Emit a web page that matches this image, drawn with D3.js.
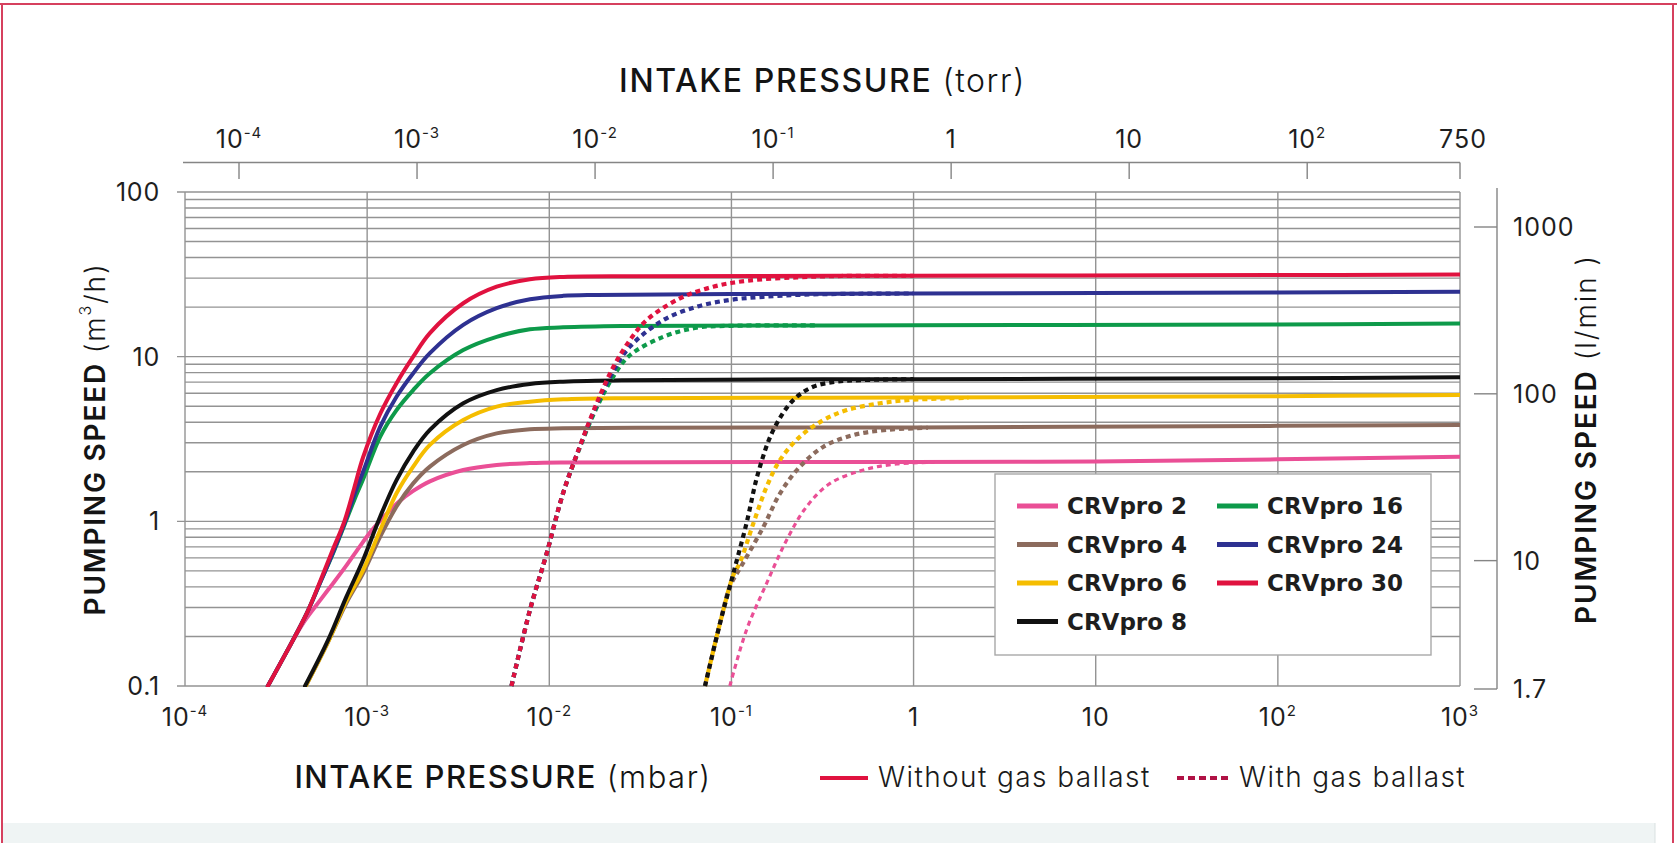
<!DOCTYPE html>
<html><head><meta charset="utf-8">
<script src="https://cdn.jsdelivr.net/npm/d3@7"></script>
<style>
html,body{margin:0;padding:0;background:#fff;}
svg{display:block;font-family:Inter,"Open Sans",sans-serif;}
</style></head>
<body>
<svg id="chart" width="1677" height="843"></svg>
<script>
// ---------- DATA (pressure in mbar, pumping speed in m3/h) ----------
const series = ["CRVpro 2","CRVpro 4","CRVpro 6","CRVpro 8","CRVpro 16","CRVpro 24","CRVpro 30"];
const seriesColors = ["#ea4f96","#8c6b5d","#f5bd00","#111111","#0d9a4a","#2e3191","#e0123f"];

// without gas ballast (solid)
const crv2_solid  = [[2.85e-4,0.1],[3.6e-4,0.16],[4.5e-4,0.245],[5.5e-4,0.33],[6.5e-4,0.42],[7.7e-4,0.54],[9.0e-4,0.69],[1.05e-3,0.87],[1.25e-3,1.08],[1.5e-3,1.32],[1.79e-3,1.53],[2.21e-3,1.75],[3.37e-3,2.05],[5.14e-3,2.2],[7.83e-3,2.26],[1.2e-2,2.28],[1,2.29],[10,2.31],[100,2.38],[1000,2.47]];
const crv4_solid  = [[4.6e-4,0.1],[6.1e-4,0.185],[7.7e-4,0.32],[9.5e-4,0.483],[1.18e-3,0.807],[1.45e-3,1.23],[1.79e-3,1.7],[2.21e-3,2.15],[3.37e-3,2.91],[5.14e-3,3.42],[7.83e-3,3.62],[1.19e-2,3.67],[3e-2,3.7],[1,3.72],[100,3.8],[1000,3.85]];
const crv6_solid  = [[4.6e-4,0.1],[6.1e-4,0.185],[7.7e-4,0.33],[9.5e-4,0.506],[1.18e-3,0.886],[1.45e-3,1.48],[1.79e-3,2.15],[2.21e-3,2.91],[3.37e-3,4.12],[5.14e-3,4.97],[7.83e-3,5.33],[1.19e-2,5.51],[2.5e-2,5.6],[1,5.65],[100,5.75],[1000,5.85]];
const crv8_solid  = [[4.56e-4,0.1],[6.1e-4,0.19],[7.7e-4,0.349],[9.5e-4,0.582],[1.18e-3,1.07],[1.45e-3,1.78],[1.79e-3,2.65],[2.21e-3,3.59],[3.37e-3,5.21],[5.14e-3,6.27],[7.83e-3,6.82],[1.19e-2,7.05],[2.5e-2,7.2],[1,7.3],[100,7.4],[1000,7.49]];
const crv16_solid = [[2.85e-4,0.1],[3.6e-4,0.16],[4.66e-4,0.276],[5.6e-4,0.44],[6.5e-4,0.64],[7.5e-4,0.95],[8.5e-4,1.35],[9.5e-4,1.8],[1.18e-3,3.27],[1.45e-3,4.74],[1.79e-3,6.27],[2.21e-3,7.93],[3.37e-3,10.97],[5.14e-3,13.2],[7.83e-3,14.66],[1.19e-2,15.07],[2.5e-2,15.35],[1,15.5],[100,15.7],[1000,15.9]];
const crv24_solid = [[2.85e-4,0.1],[3.6e-4,0.16],[4.66e-4,0.276],[5.6e-4,0.44],[6.5e-4,0.65],[7.5e-4,0.97],[8.5e-4,1.45],[9.5e-4,2.0],[1.18e-3,3.76],[1.45e-3,5.71],[1.79e-3,7.93],[2.21e-3,10.5],[3.37e-3,15.6],[5.14e-3,19.7],[7.83e-3,22.3],[1.19e-2,23.4],[1.82e-2,23.7],[0.1,24.0],[1,24.2],[100,24.5],[1000,24.8]];
const crv30_solid = [[2.85e-4,0.1],[3.6e-4,0.16],[4.66e-4,0.276],[5.6e-4,0.45],[6.5e-4,0.68],[7.5e-4,1.0],[8.5e-4,1.6],[9.5e-4,2.45],[1.18e-3,4.5],[1.45e-3,6.9],[1.79e-3,10],[2.21e-3,13.9],[3.37e-3,21.1],[5.14e-3,26.6],[7.83e-3,29.5],[1.2e-2,30.5],[3e-2,30.8],[1,31.0],[100,31.3],[1000,31.5]];

// with gas ballast (dashed)
const crv2_gb  = [[9.8e-2,0.1],[0.121,0.219],[0.156,0.42],[0.201,0.77],[0.259,1.23],[0.348,1.7],[0.53,2.05],[0.808,2.23],[1.3,2.28]];
const crv4_gb  = [[7.16e-2,0.1],[8.65e-2,0.24],[0.098,0.4],[0.115,0.55],[0.15,0.928],[0.185,1.48],[0.238,2.15],[0.32,2.84],[0.466,3.34],[0.712,3.59],[1.2,3.7]];
const crv6_gb  = [[7.16e-2,0.1],[8.65e-2,0.24],[0.1024,0.47],[0.111,0.556],[0.132,0.973],[0.156,1.62],[0.185,2.36],[0.238,3.27],[0.32,4.12],[0.43,4.74],[0.654,5.21],[0.955,5.46],[2,5.62]];
const crv8_gb  = [[7.16e-2,0.1],[8.65e-2,0.24],[0.1024,0.483],[0.121,0.973],[0.14,1.96],[0.17,3.59],[0.219,5.46],[0.281,6.57],[0.378,7.05],[0.53,7.21],[1,7.3]];
const crv16_gb = [[6.2e-3,0.1],[7.83e-3,0.289],[9.68e-3,0.64],[1.19e-2,1.48],[1.47e-2,2.8],[1.82e-2,4.9],[2.25e-2,7.6],[2.77e-2,10.2],[4.23e-2,13.2],[6.44e-2,15.0],[0.1,15.4],[0.3,15.5]];
const crv24_gb = [[6.2e-3,0.1],[7.83e-3,0.289],[9.68e-3,0.64],[1.19e-2,1.48],[1.47e-2,2.84],[1.82e-2,5.1],[2.25e-2,8.2],[2.77e-2,11.5],[4.23e-2,16.7],[6.44e-2,20.1],[9.8e-2,22.1],[0.149,23.1],[0.25,23.8],[0.5,24.1],[1,24.2]];
const crv30_gb = [[6.2e-3,0.1],[7.83e-3,0.289],[9.68e-3,0.64],[1.19e-2,1.48],[1.47e-2,2.84],[1.82e-2,5.21],[2.25e-2,8.69],[2.77e-2,12.6],[3.43e-2,16.7],[5.22e-2,22.6],[7.95e-2,26.6],[0.121,28.9],[0.228,30.3],[0.4,30.9],[1,31.0]];

const solidSeries = [crv2_solid,crv4_solid,crv6_solid,crv8_solid,crv16_solid,crv24_solid,crv30_solid];
const gbSeries    = [crv2_gb,crv4_gb,crv6_gb,crv8_gb,crv16_gb,crv24_gb,crv30_gb];

// ticks
const mbarTicks = [1e-4,1e-3,1e-2,1e-1,1,10,100,1000];
const mbarTickLabels = [["10","-4"],["10","-3"],["10","-2"],["10","-1"],["1",""],["10",""],["10","2"],["10","3"]];
const torrTicks = [1e-4,1e-3,1e-2,1e-1,1,10,100,750];
const torrTickLabels = [["10","-4"],["10","-3"],["10","-2"],["10","-1"],["1",""],["10",""],["10","2"],["750",""]];
const speedTicks = [0.1,1,10,100];
const speedTickLabels = ["0.1","1","10","100"];
const lminTicks = [1.7,10,100,1000];
const lminTickLabels = ["1.7","10","100","1000"];

// ---------- DRAW ----------
(function(){
const svg = d3.select("#chart");
const W = 1677, H = 843;
const L = 185, R = 1460, T = 192, B = 686;
const TXT = "#1e1e1e";

// page frame
svg.append("rect").attr("x",0).attr("y",0).attr("width",W).attr("height",H).attr("fill","#ffffff");
svg.append("rect").attr("x",2).attr("y",823).attr("width",1653).attr("height",20).attr("fill","#eff4f4");
svg.append("line").attr("x1",0).attr("x2",W).attr("y1",4).attr("y2",4).attr("stroke","#d6405e").attr("stroke-width",2);
svg.append("line").attr("x1",2).attr("x2",2).attr("y1",4).attr("y2",H).attr("stroke","#d6405e").attr("stroke-width",2);
svg.append("line").attr("x1",1673).attr("x2",1673).attr("y1",4).attr("y2",H).attr("stroke","#d6405e").attr("stroke-width",2);
svg.append("line").attr("x1",1655).attr("x2",1655).attr("y1",823).attr("y2",H).attr("stroke","#d9e1e1").attr("stroke-width",1);

const x = d3.scaleLog().domain([1e-4,1e3]).range([L,R]);
const y = d3.scaleLog().domain([0.1,100]).range([B,T]);
const xT = d3.scaleLog().domain([1e-4,750]).range([239,1463]);
const yR = d3.scaleLog().domain([1.7,1000]).range([689,227]);

// grid
const grid = svg.append("g");
const hLines = [];
[0.1,1,10].forEach(d=>{for(let k=1;k<10;k++) hLines.push(+(d*k).toPrecision(3));});
hLines.push(100);
grid.selectAll("line.h").data(hLines).join("line").attr("class","h")
  .attr("x1",d=> speedTicks.includes(d) ? L-8 : L).attr("x2",R)
  .attr("y1",d=>y(d)).attr("y2",d=>y(d))
  .attr("stroke","#939393").attr("stroke-width",1.4);
grid.selectAll("line.v").data(mbarTicks).join("line").attr("class","v")
  .attr("x1",d=>x(d)).attr("x2",d=>x(d)).attr("y1",T).attr("y2",B)
  .attr("stroke","#939393").attr("stroke-width",1.4);

// curves
const line = d3.line().x(d=>x(d[0])).y(d=>y(d[1])).curve(d3.curveCatmullRom.alpha(0.5));
svg.append("clipPath").attr("id","plotclip").append("rect").attr("x",L).attr("y",T).attr("width",R-L).attr("height",B-T+1);
const curves = svg.append("g").attr("clip-path","url(#plotclip)");
curves.selectAll("path.solid").data(solidSeries).join("path").attr("class","solid")
  .attr("d",line).attr("fill","none")
  .attr("stroke",(d,i)=>seriesColors[i]).attr("stroke-width",4).attr("stroke-linecap","round");
const gbOrder = [0,2,1,3,4,5,6];
curves.selectAll("path.gb").data(gbOrder).join("path").attr("class","gb")
  .attr("d",k=>line(gbSeries[k])).attr("fill","none")
  .attr("stroke",k=>seriesColors[k]).attr("stroke-width",k=>k===0?3.2:4.2)
  .attr("stroke-dasharray","5,4")
  .attr("stroke-dashoffset",k=> k===2 ? 4.5 : 0);

// left axis labels
svg.append("g").selectAll("text").data(speedTicks).join("text")
  .attr("x",160).attr("y",d=>y(d)).attr("text-anchor","end").attr("dominant-baseline","central")
  .attr("font-size",25).attr("letter-spacing",0.8).attr("fill",TXT).text((d,k)=>speedTickLabels[k]);

function supLabel(sel, labels, sizeMain, sizeSup){
  sel.each(function(d,k){
    const t = d3.select(this);
    const lab = labels[k];
    t.append("tspan").attr("font-size",sizeMain).text(lab[0]);
    if(lab[1]) t.append("tspan").attr("font-size",sizeSup).attr("dy",-10).text(lab[1]);
  });
}
// bottom axis labels
svg.append("g").selectAll("text").data(mbarTicks).join("text")
  .attr("x",d=>x(d)).attr("y",726).attr("text-anchor","middle").attr("fill",TXT).attr("letter-spacing",1)
  .call(supLabel, mbarTickLabels, 25, 15);

// top axis
const topAx = svg.append("g");
topAx.append("line").attr("x1",L-2).attr("x2",R).attr("y1",162.5).attr("y2",162.5).attr("stroke","#858585").attr("stroke-width",1.4);
topAx.selectAll("line.t").data(torrTicks).join("line").attr("class","t")
  .attr("x1",d=>Math.min(xT(d),R)).attr("x2",d=>Math.min(xT(d),R)).attr("y1",162.5).attr("y2",179)
  .attr("stroke","#858585").attr("stroke-width",1.4);
topAx.selectAll("text").data(torrTicks).join("text")
  .attr("x",d=>xT(d)).attr("y",148).attr("text-anchor","middle").attr("fill",TXT).attr("letter-spacing",1)
  .call(supLabel, torrTickLabels, 25, 15);

// right axis
const rightAx = svg.append("g");
rightAx.append("line").attr("x1",1497).attr("x2",1497).attr("y1",188).attr("y2",689).attr("stroke","#858585").attr("stroke-width",1.4);
rightAx.selectAll("line.t").data(lminTicks).join("line").attr("class","t")
  .attr("x1",1474).attr("x2",1497).attr("y1",d=>yR(d)).attr("y2",d=>yR(d))
  .attr("stroke","#858585").attr("stroke-width",1.4);
rightAx.selectAll("text").data(lminTicks).join("text")
  .attr("x",1513).attr("y",d=>yR(d)).attr("dominant-baseline","central")
  .attr("font-size",25).attr("letter-spacing",1).attr("fill",TXT).text((d,k)=>lminTickLabels[k]);

// titles
const tTop = svg.append("text").attr("x",(L+R)/2).attr("y",92).attr("text-anchor","middle")
  .attr("font-size",32).attr("letter-spacing",1.6).attr("fill","#141414");
tTop.append("tspan").attr("font-weight",500).text("INTAKE PRESSURE ");
tTop.append("tspan").attr("font-weight",300).text("(torr)");
const tBot = svg.append("text").attr("x",503).attr("y",788).attr("text-anchor","middle")
  .attr("font-size",31).attr("letter-spacing",1.5).attr("fill","#141414");
tBot.append("tspan").attr("font-weight",500).text("INTAKE PRESSURE ");
tBot.append("tspan").attr("font-weight",300).text("(mbar)");
const tLeft = svg.append("text").attr("transform",`translate(95,${(T+B)/2}) rotate(-90)`)
  .attr("text-anchor","middle").attr("dominant-baseline","central")
  .attr("font-size",28).attr("letter-spacing",1.8).attr("fill","#141414");
tLeft.append("tspan").attr("font-weight",600).text("PUMPING SPEED ");
tLeft.append("tspan").attr("font-weight",300).text("(m");
tLeft.append("tspan").attr("font-weight",300).attr("font-size",16).attr("dy",-10).text("3");
tLeft.append("tspan").attr("font-weight",300).attr("dy",10).text("/h)");
const tRight = svg.append("text").attr("transform",`translate(1586,${(T+B)/2}) rotate(-90)`)
  .attr("text-anchor","middle").attr("dominant-baseline","central")
  .attr("font-size",28).attr("letter-spacing",1.9).attr("fill","#141414");
tRight.append("tspan").attr("font-weight",600).text("PUMPING SPEED ");
tRight.append("tspan").attr("font-weight",300).text("(l/min )");

// legend box
const lg = svg.append("g");
lg.append("rect").attr("x",995).attr("y",474).attr("width",436).attr("height",181)
  .attr("fill","#fff").attr("stroke","#a8a8a8").attr("stroke-width",1.4);
const legendItems = series.map((s,k)=>({name:s,color:seriesColors[k],col:k<4?0:1,row:k<4?k:k-4}));
const li = lg.selectAll("g.item").data(legendItems).join("g").attr("class","item")
  .attr("transform",d=>`translate(${d.col?1217:1017},${506+d.row*38.5})`);
li.append("line").attr("x1",0).attr("x2",41).attr("y1",0).attr("y2",0).attr("stroke",d=>d.color).attr("stroke-width",5);
li.append("text").attr("x",50).attr("y",0).attr("dominant-baseline","central")
  .attr("font-family","'DejaVu Sans',sans-serif")
  .attr("font-size",23).attr("font-weight",700).attr("fill","#1e1e1e").text(d=>d.name);

// bottom legend
const bl = svg.append("g");
bl.append("line").attr("x1",820).attr("x2",868).attr("y1",778).attr("y2",778).attr("stroke","#e0123f").attr("stroke-width",4);
bl.append("text").attr("x",878).attr("y",787).attr("font-size",28).attr("letter-spacing",1.4).attr("font-weight",300).attr("fill","#1a1a1a").text("Without gas ballast");
bl.append("line").attr("x1",1177).attr("x2",1228).attr("y1",778).attr("y2",778).attr("stroke","#b01245").attr("stroke-width",4).attr("stroke-dasharray","7,4");
bl.append("text").attr("x",1239).attr("y",787).attr("font-size",28).attr("letter-spacing",1.4).attr("font-weight",300).attr("fill","#1a1a1a").text("With gas ballast");
})();
</script>
</body></html>
